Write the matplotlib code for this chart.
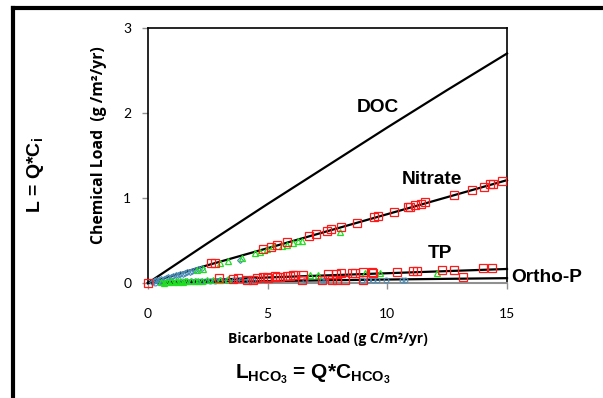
import matplotlib
matplotlib.use("Agg")
import matplotlib.pyplot as plt
from matplotlib.lines import Line2D

plt.rcParams['mathtext.fontset'] = 'custom'
plt.rcParams['mathtext.rm'] = 'Liberation Sans'
plt.rcParams['mathtext.bf'] = 'Liberation Sans:bold'
plt.rcParams['mathtext.it'] = 'Liberation Sans:bold'

# ---- data ----
line_x = [0, 2.5, 5, 7.5, 10, 12.5, 15]
doc_y = [0, 0.47, 0.93, 1.38, 1.83, 2.27, 2.70]
nitrate_y = [0, 0.21, 0.41, 0.61, 0.81, 1.01, 1.21]
tp_y = [0, 0.035, 0.065, 0.09, 0.115, 0.14, 0.165]
orthop_y = [0, 0.012, 0.022, 0.032, 0.041, 0.049, 0.057]

red_nit_x = [0.0, 2.62, 2.80, 4.82, 5.13, 5.40, 5.82, 6.73, 7.02, 7.48, 7.65, 8.07, 8.73, 9.44, 9.61,
             10.28, 10.87, 10.95, 11.16, 11.41, 11.58, 12.77, 13.54, 14.04, 14.29, 14.43, 14.78]
red_nit_y = [0.0, 0.23, 0.24, 0.40, 0.42, 0.45, 0.48, 0.55, 0.58, 0.61, 0.64, 0.66, 0.71, 0.78, 0.79,
             0.84, 0.89, 0.89, 0.92, 0.93, 0.95, 1.035, 1.094, 1.13, 1.16, 1.17, 1.20]

red_tp_x = [2.98, 3.57, 3.77, 4.12, 4.40, 4.54, 4.82, 4.96, 5.03, 5.31, 5.38, 5.52, 5.80, 5.93, 6.07, 6.14,
            6.42, 6.49, 7.26, 7.54, 7.67, 7.86, 7.88, 8.05, 8.23, 8.51, 8.65, 8.97, 9.00, 9.35, 9.42,
            10.39, 11.06, 11.23, 12.27, 12.79, 13.15, 14.01, 14.36]
red_tp_y = [0.055, 0.044, 0.055, 0.035, 0.035, 0.055, 0.074, 0.074, 0.062, 0.082, 0.074, 0.074, 0.082, 0.082, 0.094, 0.094,
            0.035, 0.094, 0.035, 0.106, 0.040, 0.106, 0.040, 0.121, 0.040, 0.121, 0.121, 0.040, 0.133, 0.133, 0.121,
            0.133, 0.145, 0.145, 0.153, 0.153, 0.067, 0.173, 0.173]

green_nit_x = [2.03, 2.31, 3.01, 3.36, 3.91, 4.47, 4.68, 4.96, 5.24, 5.59, 5.80, 6.07, 6.28, 6.42, 8.02]
green_nit_y = [0.15, 0.17, 0.24, 0.26, 0.29, 0.35, 0.37, 0.40, 0.43, 0.44, 0.45, 0.47, 0.49, 0.49, 0.60]

green_tp_x = [0.55, 0.65, 0.75, 0.85, 0.95, 1.05, 1.15, 1.25, 1.35, 1.45, 1.55, 1.65, 1.80, 1.95, 2.10, 2.25,
              2.45, 2.70, 3.0, 3.35, 6.77, 7.10, 9.07, 9.69, 12.06]
green_tp_y = [0.01, 0.005, 0.015, 0.01, 0.02, 0.012, 0.018, 0.01, 0.022, 0.015, 0.02, 0.025, 0.018, 0.025, 0.02, 0.028,
              0.03, 0.035, 0.04, 0.045, 0.094, 0.094, 0.114, 0.12, 0.12]

blue_nit_x = [0.15, 0.25, 0.35, 0.45, 0.55, 0.65, 0.75, 0.85, 0.95, 1.05, 1.15, 1.25, 1.35, 1.45, 1.55,
              1.65, 1.75, 1.85, 1.95, 2.1, 2.25, 3.84]
blue_nit_y = [0.012, 0.02, 0.03, 0.035, 0.045, 0.05, 0.06, 0.065, 0.075, 0.08, 0.09, 0.095, 0.105, 0.11, 0.12,
              0.13, 0.135, 0.145, 0.15, 0.16, 0.175, 0.27]

blue_op_x = [0.3, 0.45, 0.6, 0.8, 1.0, 1.2, 1.4, 1.6, 1.8, 2.0, 2.2, 2.4, 2.6, 2.8, 3.0, 3.3, 3.6, 3.9, 4.2,
             4.4, 6.56, 7.26, 7.40, 8.93, 9.21, 9.42, 9.58, 9.95, 10.60, 10.74]
blue_op_y = [0.005, 0.008, 0.01, 0.012, 0.015, 0.015, 0.018, 0.02, 0.02, 0.022, 0.025, 0.025, 0.028, 0.028, 0.03,
             0.03, 0.032, 0.032, 0.035, 0.035, 0.03, 0.03, 0.03, 0.03, 0.03, 0.03, 0.03, 0.03, 0.03, 0.03]

x_ticks = [0, 5, 10, 15]
y_ticks = [0, 1, 2, 3]

# ---- figure ----
fig = plt.figure(figsize=(6.03, 3.98), dpi=100)
ax = fig.add_axes([148/603, 1-283/398, (507-148)/603, (283-28)/398])

red = '#ff1a1a'
green = '#1ee01e'
blue = '#4a8db7'

for yy in (doc_y, nitrate_y, tp_y, orthop_y):
    ax.plot(line_x, yy, color='black', lw=1.6, zorder=3, clip_on=False)

ax.plot(blue_nit_x, blue_nit_y, ls='none', marker='D', ms=3, mfc='none', mec=blue, mew=0.8, clip_on=False, zorder=4)
ax.plot(blue_op_x, blue_op_y, ls='none', marker='o', ms=3.5, mfc='none', mec=blue, mew=0.8, clip_on=False, zorder=4)
ax.plot(green_nit_x, green_nit_y, ls='none', marker='^', ms=5, mfc='none', mec=green, mew=0.9, clip_on=False, zorder=5)
ax.plot(green_tp_x, green_tp_y, ls='none', marker='^', ms=5, mfc='none', mec=green, mew=0.9, clip_on=False, zorder=5)
ax.plot(red_nit_x, red_nit_y, ls='none', marker='s', ms=5.8, mfc='none', mec=red, mew=0.9, clip_on=False, zorder=6)
ax.plot(red_tp_x, red_tp_y, ls='none', marker='s', ms=5.8, mfc='none', mec=red, mew=0.9, clip_on=False, zorder=6)

ax.set_xlim(0, 15)
ax.set_ylim(0, 3)
ax.set_xticks(x_ticks)
ax.set_yticks(y_ticks)
ax.tick_params(axis='both', direction='out', length=4, color='#909090', width=1,
               labelsize=10, pad=14)
ax.tick_params(axis='y', pad=8)
for lab in ax.get_xticklabels() + ax.get_yticklabels():
    lab.set_family('Lato')

for s in ('left', 'right', 'top'):
    ax.spines[s].set_color('black')
    ax.spines[s].set_linewidth(1.2)
ax.spines['bottom'].set_color('#909090')
ax.spines['bottom'].set_linewidth(1.5)

ax.set_xlabel('Bicarbonate Load (g C/m²/yr)', fontsize=10, fontweight='bold', family='Open Sans', labelpad=9)
ax.set_ylabel('Chemical Load  (g /m²/yr)', fontsize=11.3, fontweight='bold', family='Open Sans')
ax.yaxis.set_label_coords(-0.114, 0.54)

lab_kw = dict(fontsize=13.8, fontweight='bold', family='Liberation Sans', color='black')
ax.text(378/603, 1-108/398, 'DOC', transform=fig.transFigure, ha='center', va='center', **lab_kw)
ax.text(432/603, 1-180/398, 'Nitrate', transform=fig.transFigure, ha='center', va='center', **lab_kw)
ax.text(440/603, 1-254/398, 'TP', transform=fig.transFigure, ha='center', va='center', **lab_kw)
ax.text(511/603, 1-278/398, 'Ortho-P', transform=fig.transFigure, ha='left', va='center', **lab_kw)

fig.text(35/603, 1-175/398, r'L = Q*C$_{\mathbf{i}}$', rotation=90, ha='center', va='center',
         fontsize=14, fontweight='bold', family='Liberation Sans')
fig.text(313/603, 1-374/398, r'L$_{\mathbf{HCO_3}}$ = Q*C$_{\mathbf{HCO_3}}$', ha='center', va='center',
         fontsize=15, fontweight='bold', family='Liberation Sans')

# figure border (partial box)
fig.add_artist(Line2D([13/603, 13/603], [0, 1-7.5/398], transform=fig.transFigure, color='black', lw=3))
fig.add_artist(Line2D([13/603, 1], [1-7.5/398, 1-7.5/398], transform=fig.transFigure, color='black', lw=3))

fig.savefig('out.png', dpi=100)
